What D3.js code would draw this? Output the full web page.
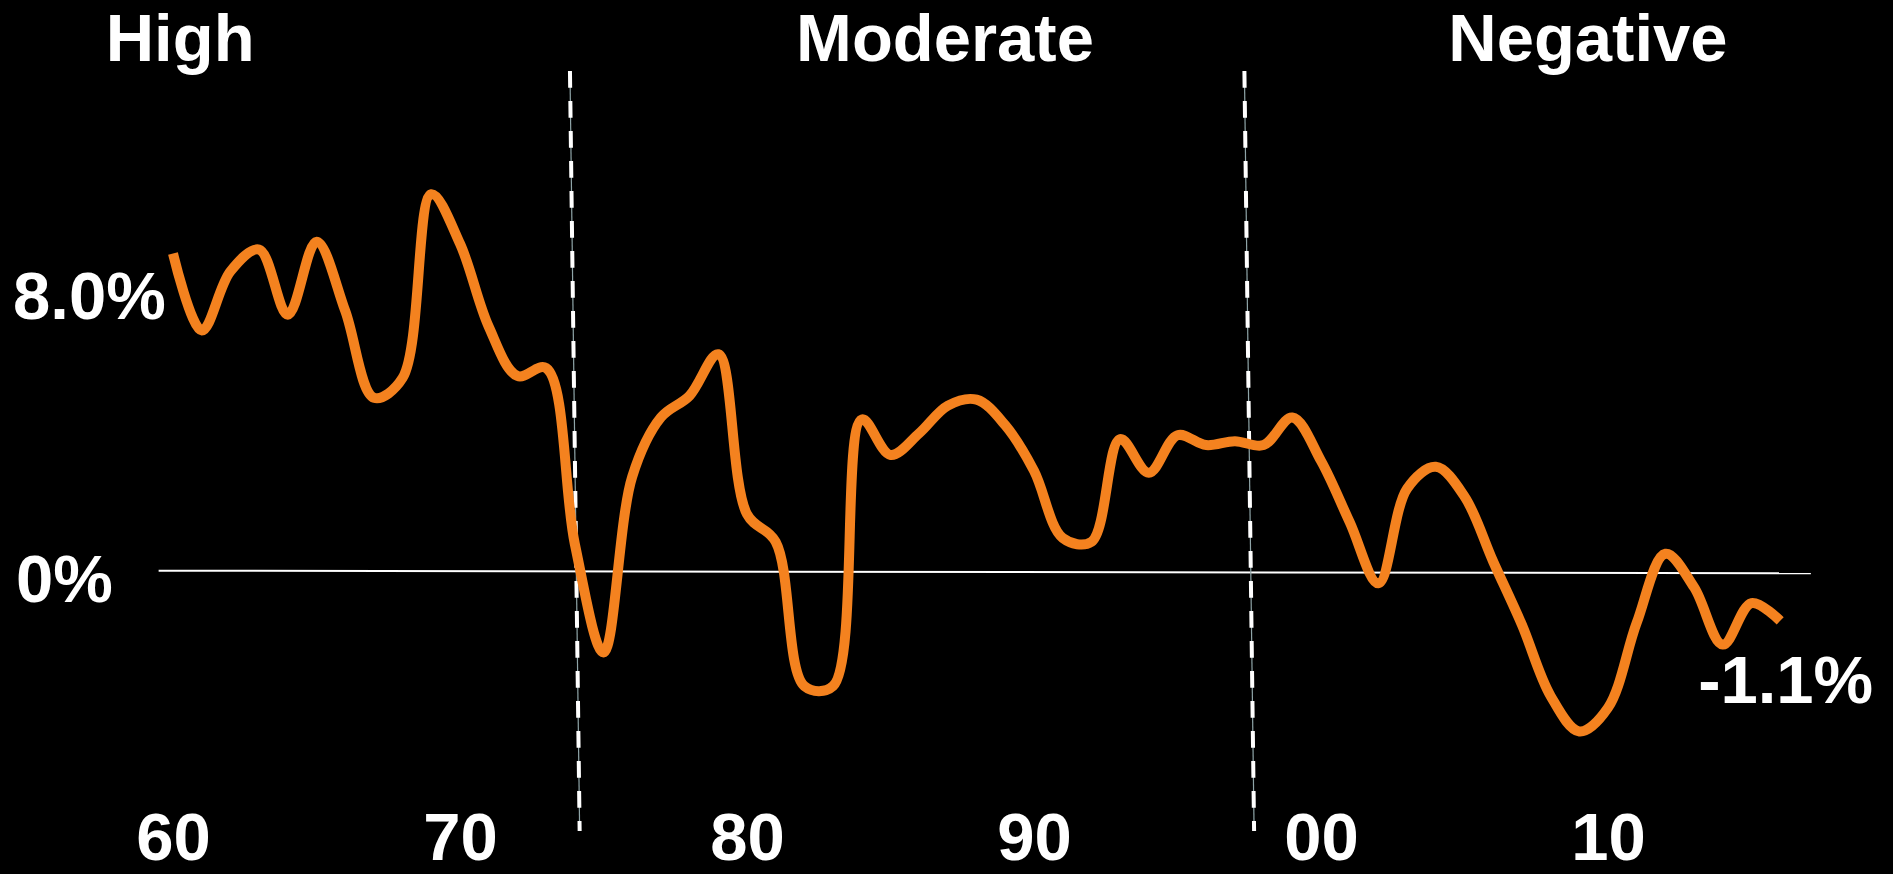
<!DOCTYPE html>
<html>
<head>
<meta charset="utf-8">
<script src="https://cdn.jsdelivr.net/npm/d3@7"></script>
<style>
  html, body { margin: 0; padding: 0; background: #000; overflow: hidden; }
  svg { display: block; }
  text { font-family: "Liberation Sans", Arial, Helvetica, sans-serif; font-weight: bold; fill: #fff; }
</style>
</head>
<body>
<svg id="chart" width="1893" height="874"></svg>
<script>
// ---- data ----
const years = [1960,1961,1962,1963,1964,1965,1966,1967,1968,1969,
               1970,1971,1972,1973,1974,1975,1976,1977,1978,1979,
               1980,1981,1982,1983,1984,1985,1986,1987,1988,1989,
               1990,1991,1992,1993,1994,1995,1996,1997,1998,1999,
               2000,2001,2002,2003,2004,2005,2006,2007,2008,2009,
               2010,2011,2012,2013,2014,2015,2016];
const growth = [8.05, 6.1, 7.6, 8.15, 6.5, 8.35, 6.6, 4.4, 4.9, 9.55,
                8.3, 6.2, 4.95, 5.15, 0.7, -2.05, 2.4, 3.9, 4.45, 5.5,
                1.45, 0.75, -2.9, -2.9, 3.85, 2.95, 3.5, 4.2, 4.35, 3.7,
                2.55, 0.85, 0.75, 3.35, 2.5, 3.45, 3.2, 3.3, 3.2, 3.9,
                2.8, 1.25, -0.3, 2.1, 2.65, 1.9, 0.25, -1.35, -3.15, -4.05,
                -3.45, -1.3, 0.45, -0.4, -1.85, -0.8, -1.25];
const tickYears = [1960, 1970, 1980, 1990, 2000, 2010];
const tickLabels = ["60", "70", "80", "90", "00", "10"];
const phaseNames = ["High", "Moderate", "Negative"];
const phaseCenters = [1960.25, 1986.9, 2009.3];
const dividerYears = [1974, 1997.5];
const startLabel = "8.0%";
const zeroLabel = "0%";
const endLabel = "-1.1%";

// ---- layout ----
const W = 1893, H = 874;
const FS = 67;
const ORANGE = "#f4821f";

const svg = d3.select("#chart");
svg.append("rect").attr("width", W).attr("height", H).attr("fill", "#000");

const x = d3.scaleLinear().domain([1960, 2010]).range([173, 1608]);
const y = d3.scaleLinear().domain([-3, 9]).range([690, 216]);

const data = years.map((yr, i) => ({ year: yr, v: growth[i] }));

// zero line (slightly tilted as in the original)
const zx0 = x(1959.5), zx1 = x(2017.07);
svg.append("line")
  .attr("x1", zx0).attr("x2", zx1)
  .attr("y1", y(0) - 0.8).attr("y2", y(0) + 1.8)
  .attr("stroke", "#fff").attr("stroke-width", 2);

// phase divider lines (dashed, slightly tilted)
const divTop = 71, divBottom = 831, tilt = -0.73;
dividerYears.forEach(d => {
  const cx = x(d), cy = (divTop + divBottom) / 2;
  const g = svg.append("g").attr("transform", `rotate(${tilt},${cx},${cy})`);
  g.append("line")
    .attr("x1", cx).attr("x2", cx).attr("y1", divTop).attr("y2", divBottom)
    .attr("stroke", "#8fa5a8").attr("stroke-width", 1.2);
  g.append("line")
    .attr("x1", cx).attr("x2", cx).attr("y1", divTop).attr("y2", divBottom)
    .attr("stroke", "#fff").attr("stroke-width", 4)
    .attr("stroke-dasharray", "16.7 13.3");
});

// growth line
const line = d3.line()
  .x(d => x(d.year))
  .y(d => y(d.v))
  .curve(d3.curveCatmullRom.alpha(0.5));

svg.append("path")
  .datum(data)
  .attr("d", line)
  .attr("fill", "none")
  .attr("stroke", ORANGE)
  .attr("stroke-width", 10)
  .attr("stroke-linejoin", "round")
  .attr("stroke-linecap", "butt");

// x axis labels
const xAxis = d3.axisBottom(x)
  .tickValues(tickYears)
  .tickFormat((d, i) => tickLabels[i])
  .tickSize(0);
const gx = svg.append("g").attr("transform", "translate(0,860)").call(xAxis);
gx.select(".domain").remove();
gx.selectAll("text")
  .attr("y", 0).attr("dy", 0)
  .attr("fill", "#fff")
  .style("font-size", FS + "px")
  .style("font-weight", "bold")
  .style("font-family", '"Liberation Sans", Arial, sans-serif');

// phase titles
svg.selectAll("text.phase")
  .data(phaseNames)
  .join("text")
  .attr("class", "phase")
  .attr("x", (d, i) => x(phaseCenters[i]))
  .attr("y", 61)
  .attr("text-anchor", "middle")
  .style("font-size", FS + "px")
  .text(d => d);

// value annotations
const first = data[0], last = data[data.length - 1];
svg.append("text")
  .attr("x", 13).attr("y", 319)
  .style("font-size", FS + "px")
  .text(startLabel);
svg.append("text")
  .attr("x", 16).attr("y", y(0) + 30.5)
  .style("font-size", FS + "px")
  .text(zeroLabel);
svg.append("text")
  .attr("x", x(last.year) + 93).attr("y", y(last.v) + 82)
  .attr("text-anchor", "end")
  .style("font-size", FS + "px")
  .text(endLabel);
</script>
</body>
</html>
